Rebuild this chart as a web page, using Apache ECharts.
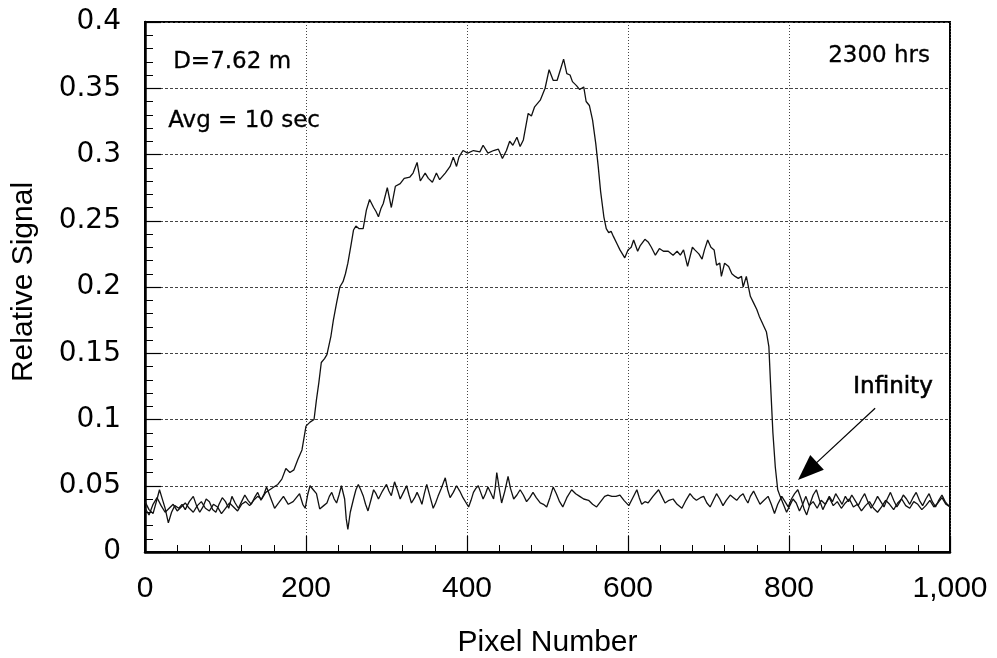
<!DOCTYPE html>
<html>
<head>
<meta charset="utf-8">
<script src="https://cdn.jsdelivr.net/npm/echarts@6/dist/echarts.min.js"></script>
<style>
html,body{margin:0;padding:0;background:#fff;}
#chart{width:997px;height:658px;}
</style>
</head>
<body>
<div id="chart"></div>
<script>
// Tick label settings
var xTicks = [0, 200, 400, 600, 800, 1000];
var yTicks = [0, 0.05, 0.1, 0.15, 0.2, 0.25, 0.3, 0.35, 0.4];

// Signal at D = 7.62 m : [pixel, relative signal]
var signalX = [0,5,10,15,20,25,30,35,40,45,50,55,60,65,70,75,80,85,90,95,100,105,110,115,120,125,130,135,140,145,150,155,160,165,170,175,180,185,190,195,200,205,210,213,216,219,223,226,231,234,238,242,246,249,252,256,259,262,266,271,275,279,284,287,290,293,296,301,306,311,317,322,329,333,338,342,348,352,357,362,366,373,379,383,387,390,395,401,408,416,420,426,433,439,444,449,453,457,462,466,470,476,480,484,491,497,502,507,512,516,520,524,528,531,536,540,545,548,552,556,560,563,566,570,573,576,579,582,586,590,596,600,604,607,612,615,621,625,629,634,639,644,650,656,661,665,669,674,680,683,688,692,695,699,703,707,710,714,716,720,725,729,733,737,741,743,747,752,756,760,763,766,772,775,777,780,783,786,789,793,797,801,805,809,813,817,821,825,830,835,840,845,850,855,860,865,870,875,880,885,890,895,900,905,910,915,920,925,930,935,940,945,950,955,960,965,970,975,980,985,990,995,1000];
var signalY = [0.033,0.028,0.036,0.041,0.035,0.030,0.033,0.036,0.031,0.034,0.037,0.033,0.030,0.035,0.038,0.033,0.031,0.036,0.034,0.029,0.033,0.037,0.034,0.031,0.036,0.038,0.035,0.039,0.042,0.040,0.045,0.047,0.049,0.051,0.055,0.063,0.060,0.062,0.070,0.077,0.095,0.098,0.100,0.115,0.128,0.143,0.146,0.149,0.163,0.175,0.188,0.200,0.204,0.210,0.218,0.232,0.243,0.246,0.244,0.244,0.258,0.266,0.260,0.257,0.253,0.259,0.263,0.275,0.260,0.276,0.278,0.282,0.283,0.286,0.294,0.280,0.286,0.282,0.279,0.286,0.281,0.286,0.291,0.298,0.291,0.298,0.303,0.301,0.303,0.302,0.307,0.301,0.303,0.304,0.297,0.303,0.310,0.307,0.313,0.306,0.311,0.331,0.329,0.336,0.341,0.350,0.364,0.356,0.356,0.364,0.372,0.361,0.360,0.355,0.352,0.349,0.351,0.340,0.337,0.326,0.308,0.291,0.272,0.253,0.244,0.241,0.242,0.238,0.233,0.228,0.222,0.228,0.230,0.2355,0.227,0.231,0.236,0.234,0.230,0.224,0.229,0.227,0.227,0.224,0.227,0.224,0.228,0.2155,0.230,0.228,0.225,0.221,0.228,0.2355,0.230,0.228,0.2165,0.218,0.208,0.218,0.2155,0.210,0.208,0.2065,0.208,0.200,0.208,0.193,0.188,0.183,0.178,0.174,0.166,0.155,0.128,0.090,0.064,0.047,0.042,0.036,0.030,0.035,0.040,0.037,0.031,0.036,0.042,0.035,0.038,0.033,0.039,0.036,0.041,0.035,0.038,0.033,0.037,0.040,0.034,0.036,0.031,0.035,0.038,0.033,0.030,0.034,0.039,0.036,0.032,0.037,0.040,0.035,0.033,0.038,0.036,0.032,0.035,0.039,0.034,0.037,0.041,0.036,0.034];

// Infinity baseline : [pixel, relative signal]
var infX = [0,5,10,15,18,22,25,29,33,37,42,46,50,55,60,64,68,72,76,80,84,88,92,96,100,104,108,112,116,120,124,128,132,136,140,144,148,151,156,161,166,172,178,184,188,192,196,199,202,205,209,213,217,222,226,229,232,235,238,241,244,248,250,252,255,259,262,265,268,271,274,277,281,284,287,290,295,300,303,306,310,314,317,321,325,328,331,335,338,341,344,347,350,354,358,361,364,368,373,376,379,383,387,391,395,399,402,405,408,411,414,417,420,423,426,430,433,435,437,440,443,447,451,454,458,462,466,470,474,478,482,486,491,495,499,503,507,511,515,519,524,530,535,540,545,551,556,561,566,571,575,580,585,590,595,601,606,611,614,617,621,625,631,638,642,646,651,656,661,667,672,677,681,685,690,694,698,702,706,710,714,718,722,727,731,735,739,743,746,749,752,756,760,764,769,774,778,782,786,791,795,799,803,807,811,815,819,822,826,830,834,838,842,846,850,854,858,862,866,870,874,878,882,886,890,894,898,902,906,910,914,918,922,926,930,934,938,942,946,950,954,958,962,966,970,974,978,982,986,990,994,998,1000];
var infY = [0.038,0.032,0.029,0.040,0.047,0.039,0.033,0.022,0.030,0.035,0.033,0.036,0.032,0.038,0.042,0.035,0.030,0.034,0.040,0.038,0.032,0.030,0.036,0.041,0.038,0.033,0.042,0.037,0.033,0.038,0.043,0.039,0.036,0.041,0.045,0.039,0.044,0.049,0.041,0.033,0.037,0.042,0.036,0.038,0.041,0.044,0.036,0.033,0.043,0.050,0.047,0.044,0.0325,0.035,0.037,0.042,0.045,0.040,0.037,0.043,0.050,0.040,0.025,0.017,0.030,0.040,0.047,0.051,0.047,0.0425,0.036,0.031,0.040,0.047,0.044,0.040,0.046,0.051,0.046,0.0425,0.053,0.046,0.040,0.045,0.050,0.043,0.037,0.041,0.045,0.041,0.036,0.044,0.051,0.042,0.033,0.037,0.042,0.048,0.056,0.047,0.041,0.045,0.050,0.046,0.041,0.037,0.034,0.039,0.045,0.048,0.050,0.045,0.040,0.044,0.049,0.044,0.040,0.048,0.060,0.048,0.037,0.046,0.057,0.048,0.040,0.043,0.047,0.043,0.038,0.041,0.045,0.041,0.037,0.036,0.034,0.041,0.049,0.044,0.038,0.034,0.041,0.047,0.044,0.042,0.040,0.039,0.036,0.034,0.038,0.042,0.043,0.042,0.042,0.043,0.039,0.035,0.041,0.047,0.041,0.036,0.038,0.037,0.042,0.047,0.042,0.037,0.039,0.040,0.036,0.033,0.039,0.044,0.041,0.039,0.041,0.042,0.037,0.034,0.039,0.044,0.040,0.035,0.039,0.043,0.041,0.039,0.042,0.044,0.040,0.037,0.042,0.046,0.041,0.036,0.039,0.042,0.036,0.029,0.036,0.042,0.038,0.034,0.040,0.044,0.047,0.040,0.032,0.028,0.036,0.043,0.047,0.039,0.032,0.037,0.042,0.038,0.044,0.040,0.036,0.042,0.038,0.043,0.039,0.035,0.040,0.044,0.038,0.033,0.037,0.042,0.038,0.034,0.040,0.045,0.039,0.034,0.038,0.043,0.040,0.036,0.041,0.045,0.039,0.035,0.040,0.044,0.038,0.034,0.039,0.043,0.038,0.035,0.036];

// Arrow annotation (data coordinates): tail and head centre
var arrowTail = [907, 0.1085];
var arrowHead = [823, 0.061];

function pairs(xs, ys) {
  var out = [];
  for (var i = 0; i < xs.length; i++) out.push([xs[i], ys[i]]);
  return out;
}

var chart = echarts.init(document.getElementById('chart'), null, {renderer: 'canvas'});
var option = {
  backgroundColor: '#ffffff',
  animation: false,
  grid: {left: 145, top: 22, right: 47, bottom: 106, containLabel: false, outerBoundsMode: 'none',
    show: true, borderColor: '#000', borderWidth: 2, backgroundColor: 'transparent'},
  xAxis: {
    type: 'value', min: xTicks[0], max: xTicks[xTicks.length - 1], interval: 200,
    name: 'Pixel Number', nameLocation: 'middle', nameGap: 76,
    nameTextStyle: {fontFamily: 'Liberation Sans', fontSize: 30, color: '#000'},
    axisLine: {show: true, onZero: false, lineStyle: {color: '#000', width: 2.5}},
    axisTick: {show: true, inside: true, length: 16, lineStyle: {color: '#000', width: 1.2}},
    minorTick: {show: true, splitNumber: 5, length: 7, lineStyle: {color: '#000', width: 1}},
    axisLabel: {fontFamily: 'Liberation Sans', fontSize: 30, color: '#000', margin: 22,
      formatter: function (v) { return v >= 1000 ? (Math.floor(v / 1000) + ',' + String(v % 1000).padStart(3, '0')) : String(v); }},
    splitLine: {show: true, lineStyle: {color: '#444', width: 1, type: [1, 2]}}
  },
  yAxis: {
    type: 'value', min: yTicks[0], max: yTicks[yTicks.length - 1], interval: 0.05,
    name: 'Relative Signal', nameLocation: 'middle', nameGap: 106,
    nameTextStyle: {fontFamily: 'Liberation Sans', fontSize: 30, color: '#000', padding: [0, 0, 0, 10]},
    axisLine: {show: true, onZero: false, lineStyle: {color: '#000', width: 2.5}},
    axisTick: {show: true, inside: true, length: 16, lineStyle: {color: '#000', width: 1.2}},
    minorTick: {show: true, splitNumber: 5, length: 8, lineStyle: {color: '#000', width: 1}},
    axisLabel: {fontFamily: 'DejaVu Sans', fontSize: 28, color: '#000', margin: 24},
    splitLine: {show: true, lineStyle: {color: '#444', width: 1, type: [3, 2]}}
  },
  series: [
    {
      name: 'D=7.62 m', type: 'line', data: pairs(signalX, signalY), showSymbol: false, symbol: 'none',
      lineStyle: {color: '#111', width: 1.3}, z: 3,
      markLine: {
        silent: true, symbol: ['none', 'triangle'], symbolSize: [20, 26],
        lineStyle: {color: '#000', width: 1.2, type: 'solid'},
        label: {show: false},
        data: [[{coord: arrowTail}, {coord: arrowHead}]]
      }
    },
    {
      name: 'Infinity', type: 'line', data: pairs(infX, infY), showSymbol: false, symbol: 'none',
      lineStyle: {color: '#111', width: 1.3}, z: 3
    }
  ],
  graphic: [
    {type: 'text', left: 173, top: 50, style: {text: 'D=7.62 m', font: '23px "DejaVu Sans"', fill: '#000', stroke: '#000', lineWidth: 0.3}},
    {type: 'text', left: 168, top: 109, style: {text: 'Avg = 10 sec', font: '23px "DejaVu Sans"', fill: '#000', stroke: '#000', lineWidth: 0.3}},
    {type: 'text', left: 828, top: 44, style: {text: '2300 hrs', font: '23px "DejaVu Sans"', fill: '#000', stroke: '#000', lineWidth: 0.3}},
    {type: 'text', left: 853, top: 375, style: {text: 'Infinity', font: '23px "DejaVu Sans"', fill: '#000', stroke: '#000', lineWidth: 0.6}}
  ]
};
chart.setOption(option);
</script>
</body>
</html>
